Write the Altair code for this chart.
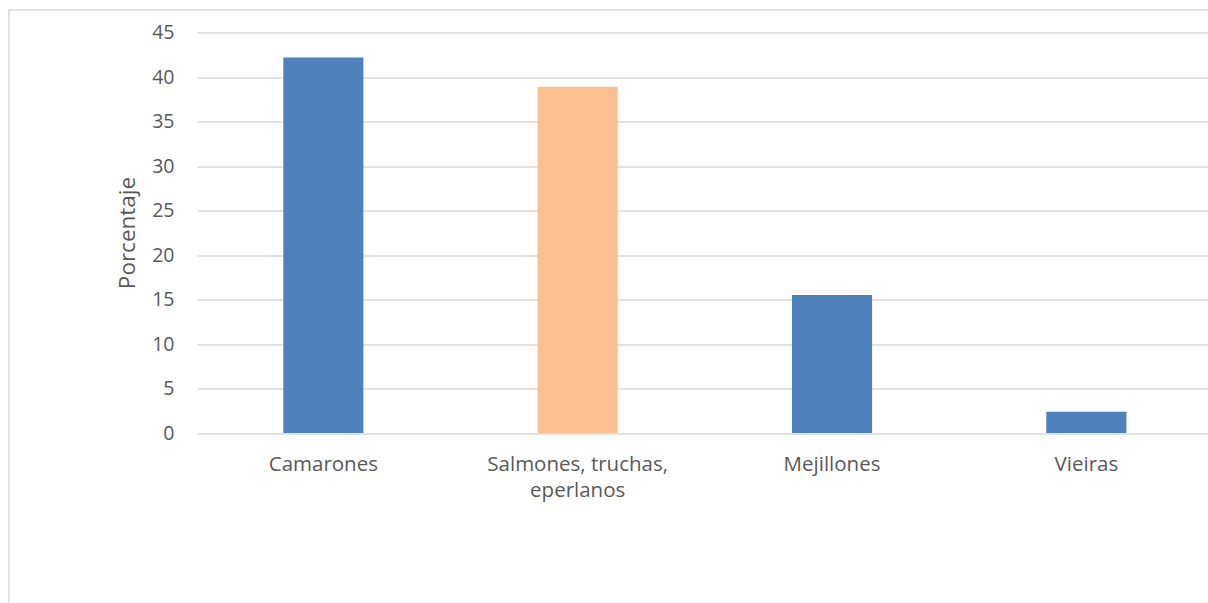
import altair as alt
import pandas as pd

categories = ["Camarones", "Salmones, truchas, eperlanos", "Mejillones", "Vieiras"]
values = [42.2, 38.9, 15.5, 2.4]
colors = ["#4f81bd", "#fac090", "#4f81bd", "#4f81bd"]
y_ticks = [0, 5, 10, 15, 20, 25, 30, 35, 40, 45]

df = pd.DataFrame({"cat": categories, "val": values, "col": colors})

FONT = "Open Sans"
TXT = "#595959"

frame = alt.Chart(pd.DataFrame({"a": [0]})).mark_rect(
    fill="transparent", stroke="#d9d9d9", strokeWidth=1.5
).encode(
    x=alt.value(-188), x2=alt.value(1200), y=alt.value(-22.5), y2=alt.value(800)
)

bars = alt.Chart(df).mark_bar().encode(
    x=alt.X("cat:N", sort=categories,
            scale=alt.Scale(paddingInner=0.685, paddingOuter=0.33, align=0.514),
            axis=alt.Axis(title=None, labelAngle=0, domain=False, ticks=False,
                          labelFont=FONT, labelFontSize=20.5, labelColor=TXT,
                          labelPadding=21, labelLineHeight=26, labelBaseline="top",
                          labelLimit=400, labelOverlap=False,
                          labelExpr="datum.label == 'Salmones, truchas, eperlanos' ? ['Salmones, truchas,', 'eperlanos'] : datum.label")),
    y=alt.Y("val:Q", scale=alt.Scale(domain=[0, 45], nice=False),
            axis=alt.Axis(title="Porcentaje", values=y_ticks, domain=False, ticks=False,
                          grid=True, gridColor="#d9d9d9", gridWidth=1.4,
                          labelFont=FONT, labelFontSize=19.5, labelColor=TXT,
                          labelPadding=23,
                          titleFont=FONT, titleFontSize=22.5, titleColor=TXT,
                          titleFontWeight="normal", titleAngle=-90,
                          titleX=-70, titleY=200, titleAlign="center",
                          titleBaseline="middle")),
    color=alt.Color("col:N", scale=None, legend=None),
)

chart = alt.layer(frame, bars).properties(
    width=1011, height=400.5,
    autosize=alt.AutoSizeParams(type="none"),
    padding={"left": 197, "top": 32.5, "right": 0, "bottom": 169.5},
    background="white",
).configure_view(stroke=None)

chart.save("out.html", embed_options={"renderer": "svg", "actions": False})
